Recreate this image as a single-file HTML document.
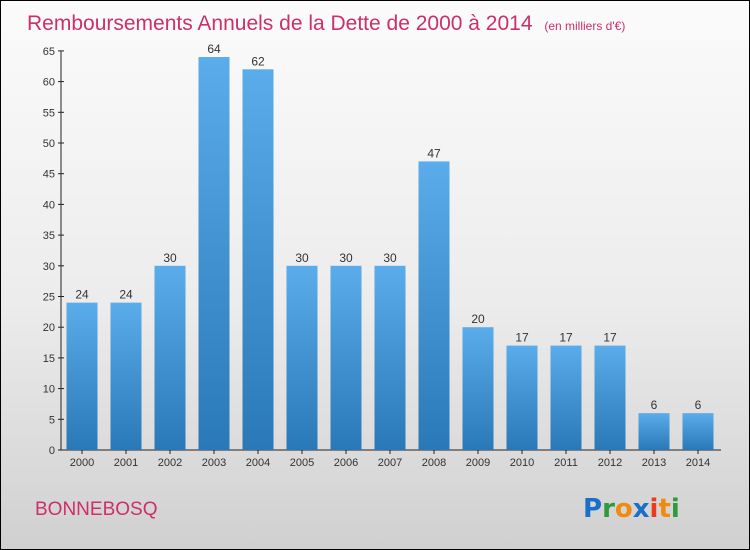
<!DOCTYPE html>
<html><head><meta charset="utf-8"><style>
body{margin:0;width:750px;height:550px;overflow:hidden;font-family:"Liberation Sans",sans-serif}
#frame{position:absolute;left:0;top:0;width:748px;height:548px;border:1px solid #000;background:linear-gradient(#fbfbfb 0%,#ececec 55%,#d0d0d0 100%)}
</style></head><body>
<div id="frame">
<svg width="748" height="548" style="position:absolute;left:0;top:0" id="chart">
<defs><linearGradient id="bg" x1="0" y1="0" x2="0" y2="1"><stop offset="0" stop-color="#5aacea"/><stop offset="1" stop-color="#2a78b8"/></linearGradient></defs>
<text x="26" y="29" font-size="21" fill="#cc2f6a">Remboursements Annuels de la Dette de 2000 à 2014 <tspan font-size="12" dx="6">(en milliers d'€)</tspan></text>
<text x="34" y="514" font-size="19" fill="#cc2f6a">BONNEBOSQ</text>
<g font-size="26" font-weight="bold" font-family="'DejaVu Sans',sans-serif">
<text x="582" y="516"><tspan fill="#1a6fc9">P</tspan><tspan fill="#2e9a3a">r</tspan><tspan fill="#f08a10">o</tspan><tspan fill="#1a6fc9">x</tspan><tspan fill="#e83c1c">i</tspan><tspan fill="#f08a10">t</tspan><tspan fill="#2e9a3a">i</tspan></text></g>
<g id="axes"></g><g id="bars"></g>
</svg></div>
<script>
const years=["2000","2001","2002","2003","2004","2005","2006","2007","2008","2009","2010","2011","2012","2013","2014"];
const values=[24,24,30,64,62,30,30,30,47,20,17,17,17,6,6];
const yTicks=[0,5,10,15,20,25,30,35,40,45,50,55,60,65];
const ns="http://www.w3.org/2000/svg";
const y0=449,ppu=6.14,x0=81,step=44,bw=31;
const Y=v=>y0-v*ppu, X=i=>x0+i*step;
function mk(t,a,p){const e=document.createElementNS(ns,t);for(const k in a)e.setAttribute(k,a[k]);p.appendChild(e);return e;}
const ax=document.getElementById('axes'),bg=document.getElementById('bars');
const yl=mk('line',{x1:60,y1:Y(65),x2:60,y2:y0,stroke:'#222'},ax);


const xl=mk('line',{x1:60,y1:y0,x2:720,y2:y0,stroke:'#222'},ax);


yTicks.forEach(v=>{mk('line',{x1:57,x2:63,y1:Y(v),y2:Y(v),stroke:'#222'},ax);
const t=mk('text',{x:54,y:Y(v)+4,'font-size':11,'text-anchor':'end',fill:'#333'},ax);t.textContent=v;

});
years.forEach((yr,i)=>{const c=X(i);
mk('line',{x1:c,x2:c,y1:y0,y2:y0+4,stroke:'#222'},ax);
const t=mk('text',{x:c,y:y0+16,'font-size':11,'text-anchor':'middle',fill:'#333'},ax);t.textContent=yr;


const r=mk('rect',{x:c-bw/2,y:Y(values[i]),width:bw,height:values[i]*ppu,fill:'url(#bg)'},bg);


const l=mk('text',{x:c,y:Y(values[i])-4,'font-size':12,'text-anchor':'middle',fill:'#333'},bg);l.textContent=values[i];

});
</script>
</body></html>
